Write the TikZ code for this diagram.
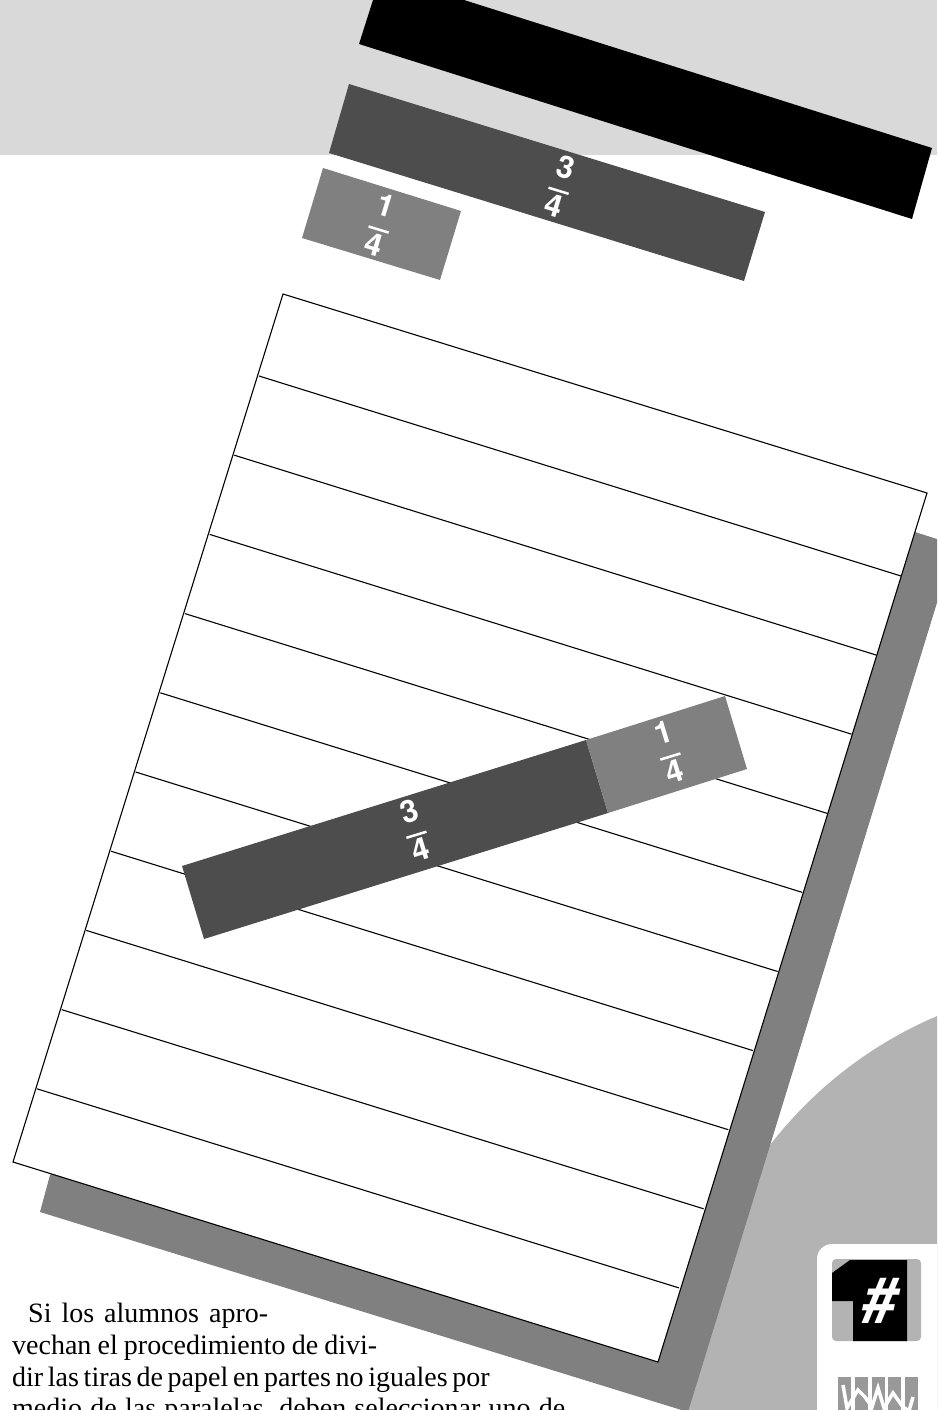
\documentclass[tikz,border=0pt]{standalone}
\usepackage{fontspec}
\setmainfont{Liberation Serif}
\newfontfamily\fracfont{TeX Gyre Heros}
\usepackage{xcolor}
\usepackage{tikz}
\usetikzlibrary{positioning}
\definecolor{bandgray}{HTML}{D9D9D9}
\definecolor{darkstrip}{HTML}{4D4D4D}
\definecolor{midstrip}{HTML}{808080}
\definecolor{discgray}{HTML}{B3B3B3}
\definecolor{iconstrip}{HTML}{999999}
\tikzset{
  fraclabel/.style={text=white, font=\fracfont\bfseries\fontsize{31}{23}\selectfont, align=center, inner sep=0pt},
  bodyline/.style={anchor=base west, inner sep=0pt, font=\fontsize{28}{30}\selectfont},
  paperline/.style={line width=1.1pt, black},
}
\newcommand{\stripfrac}[2]{#1\\[-1pt]\rule[7pt]{21pt}{2.5pt}\\[-5pt]#2}
\begin{document}
\begin{tikzpicture}[x=1pt,y=-1pt]
  \useasboundingbox (0,0) rectangle (937,1410);
  \clip (0,0) rectangle (937,1410);

  % Background
  \fill[bandgray] (0,0) rectangle (937,155);
  \fill[discgray] (1100,1400) circle (417);

  % Strips on top
  \fill[black] (373,0) -- (464,0) -- (932,148) -- (912,219) -- (359,44) -- cycle;
  \fill[darkstrip] (349,84) -- (765,212) -- (744,281) -- (329,153) -- cycle;
  \fill[midstrip] (323,168) -- (461,211) -- (440,280) -- (302,238) -- cycle;
  \node[fraclabel, rotate=-17] (topthree) at (560,186) {\stripfrac{3}{4}};
  \node[fraclabel, rotate=-17] (topone) at (380,225) {\stripfrac{1}{4}};

  % Shadow of the paper
  \fill[midstrip] (915,532) -- (940,540) -- (940,593) -- (688,1412) -- (40,1212) -- (50,1175) -- cycle;

  % Paper and ruled lines
  \filldraw[paperline, fill=white] (283,294) -- (927,493) -- (658,1362) -- (13,1162) -- cycle;
  \foreach \k in {0,...,9}
    \draw[paperline] ({259-24.67*\k},{376+79.2*\k}) -- ({901-24.67*\k},{576+79.1*\k});

  % Strip laid over the paper
  \fill[darkstrip] (182,866) -- (586,740) -- (608,813) -- (204,939) -- cycle;
  \fill[midstrip] (586,740) -- (725,696) -- (747,769) -- (608,813) -- cycle;
  \node[fraclabel, rotate=17] (lowthree) at (415,830) {\stripfrac{3}{4}};
  \node[fraclabel, rotate=17] (lowone) at (669,752) {\stripfrac{1}{4}};

  % Side box with icons
  \fill[white, rounded corners=15pt] (817,1244) rectangle (960,1440);
  \fill[discgray, rounded corners=4pt] (832,1259) rectangle (921,1341);
  \fill[black] (832,1273) -- (850,1260) -- (907,1260) -- (907,1341) -- (853,1341) -- (853,1301) -- (832,1301) -- cycle;
  \node[inner sep=0pt, text=white, font=\fracfont\bfseries\itshape\fontsize{62}{62}\selectfont] (hash) at (880,1301) {\#};
  \foreach \x in {838,855,872,888,905}
    \fill[iconstrip] (\x,1377) rectangle +(13,40);
  \draw[white, line width=3.5pt] (843,1385) -- (847,1408) -- (858,1390) -- (865,1397) -- (872,1407) -- (878,1388) -- (884,1408) -- (893,1393) -- (903,1407) -- (909,1411) -- (913,1397);

  % Text at the foot
  \node[bodyline] (lineone) at (28,1322) {\makebox[240pt][s]{Si\hfill los\hfill alumnos\hfill apro-}};
  \node[bodyline] (linetwo) at (12,1354) {\makebox[365pt][s]{vechan el procedimiento de divi-}};
  \node[bodyline] (linethree) at (12,1386) {\makebox[471pt][s]{dir las tiras de papel en partes no iguales por}};
  \node[bodyline] (linefour) at (12,1417) {\makebox[553pt][s]{medio de las paralelas, deben seleccionar uno de}};
\end{tikzpicture}
\end{document}
